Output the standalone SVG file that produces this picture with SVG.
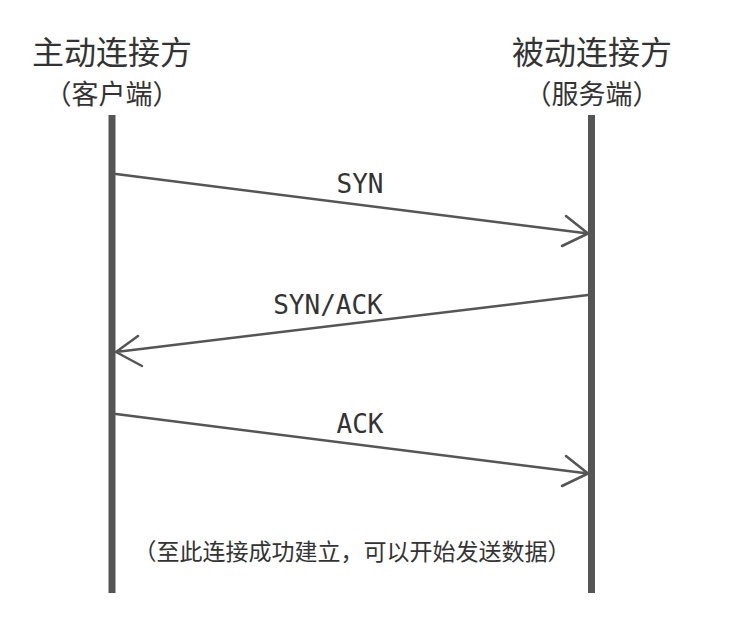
<svg xmlns="http://www.w3.org/2000/svg" width="740" height="620" viewBox="0 0 740 620">
<style>
.cjk{font-family:"Noto Sans CJK SC","Noto Sans",sans-serif;fill:#333;text-anchor:middle}
.t{font-size:32px}
.s{font-size:27px}
.n{font-size:23px}
.lbl{font-family:"DejaVu Sans Mono",monospace;font-size:26px;fill:#333;text-anchor:middle}
.life{fill:#555}
.msg{stroke:#555;stroke-width:2.5;fill:none;stroke-linecap:round;stroke-linejoin:round}
</style>
<rect width="740" height="620" fill="#fff"/>
<g id="client">
<text class="cjk t" x="112" y="64">主动连接方</text>
<text class="cjk s" x="112" y="104">（客户端）</text>
<rect class="life" x="108.5" y="115" width="7" height="478"/>
</g>
<g id="server">
<text class="cjk t" x="592" y="64">被动连接方</text>
<text class="cjk s" x="592" y="104">（服务端）</text>
<rect class="life" x="588" y="115" width="7" height="478"/>
</g>
<g id="connectors">
<path class="msg" d="M116 174 L588 233.5 M566 216 L588 233.5 L562 246"/>
<path class="msg" d="M588 295 L116 352 M138 336 L116 352 L142 366"/>
<path class="msg" d="M116 414 L588 473.5 M566 456 L588 473.5 L562 486"/>
<text class="lbl" x="360" y="193">SYN</text>
<text class="lbl" x="328" y="314">SYN/ACK</text>
<text class="lbl" x="360" y="433">ACK</text>
</g>
<g id="note">
<text class="cjk n" x="352" y="560">（至此连接成功建立，可以开始发送数据）</text>
</g>
</svg>
